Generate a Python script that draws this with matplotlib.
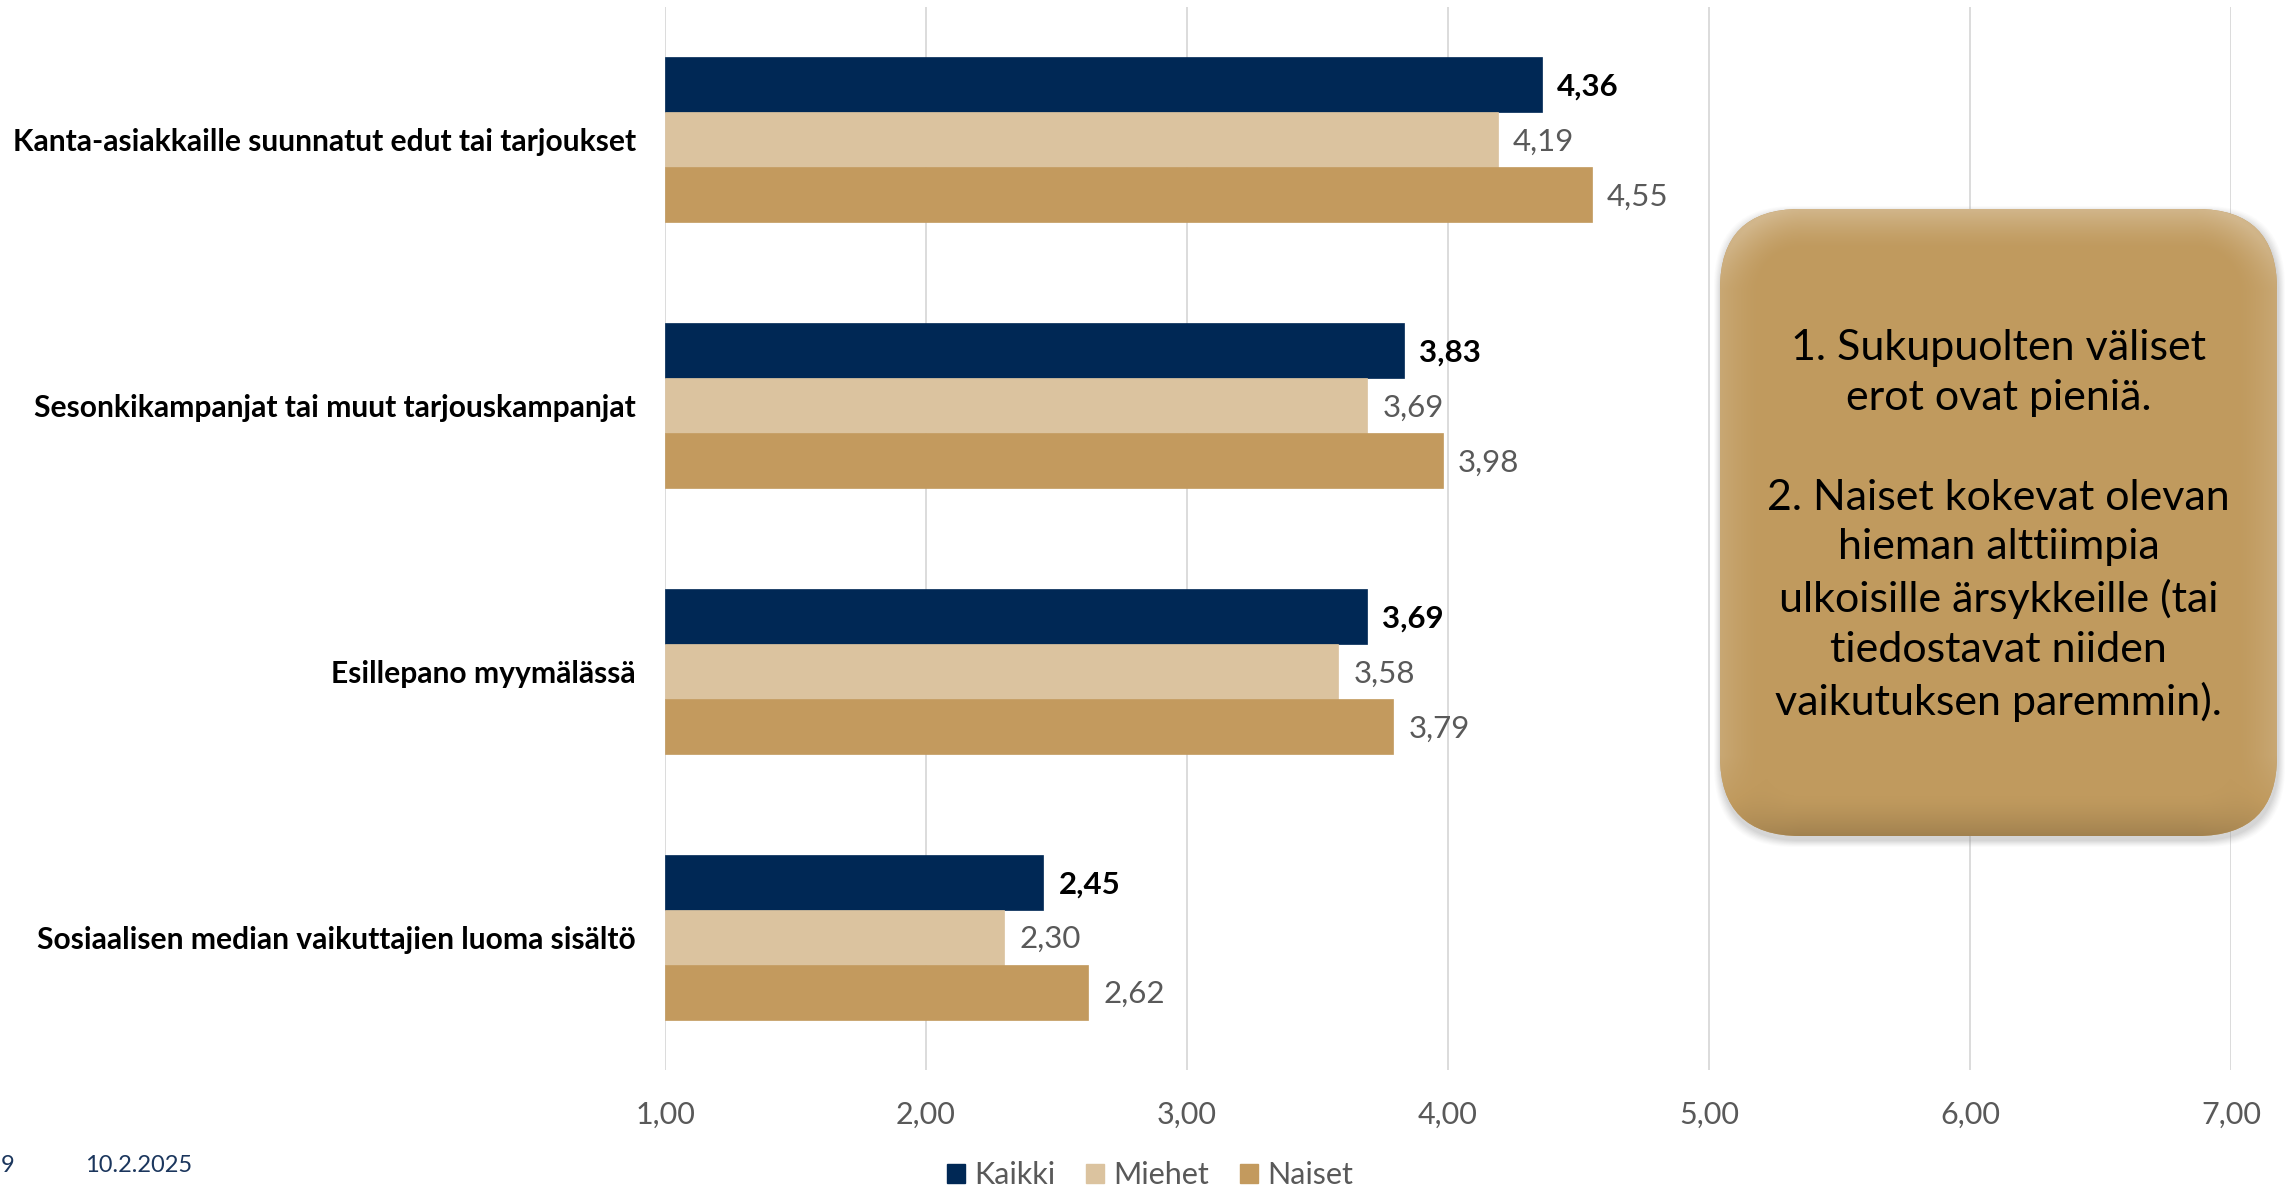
import numpy as np
import matplotlib
matplotlib.use('Agg')
import matplotlib.pyplot as plt
from matplotlib.patches import FancyBboxPatch, Patch

plt.rcParams['font.family'] = ['Lato', 'DejaVu Sans']

## __DATA__________________________
categories = ['Kanta-asiakkaille suunnatut edut tai tarjoukset',
              'Sesonkikampanjat tai muut tarjouskampanjat',
              'Esillepano myymälässä',
              'Sosiaalisen median vaikuttajien luoma sisältö']
series_names = ['Kaikki', 'Miehet', 'Naiset']
kaikki = [4.36, 3.83, 3.69, 2.45]
miehet = [4.19, 3.69, 3.58, 2.30]
naiset = [4.55, 3.98, 3.79, 2.62]
xticks = [1, 2, 3, 4, 5, 6, 7]
note_text = ('1. Sukupuolten väliset\nerot ovat pieniä.\n\n'
             '2. Naiset kokevat olevan\nhieman alttiimpia\nulkoisille ärsykkeille (tai\n'
             'tiedostavat niiden\nvaikutuksen paremmin).')
footer_page = '9'
footer_date = '10.2.2025'

colors = ['#002855', '#DBC39F', '#C39A5E']
gray = '#595959'

W, H = 2289, 1187
fig = plt.figure(figsize=(W / 100, H / 100), dpi=100)
ax = fig.add_axes([665 / W, 1 - 1070 / H, (2231 - 665) / W, (1070 - 7) / H])

## __BARS__________________________
y = np.arange(len(categories))
h = 0.207
for i, (name, vals) in enumerate(zip(series_names, [kaikki, miehet, naiset])):
    pos = y + (i - 1) * h
    ax.barh(pos, [v - 1 for v in vals], left=1, height=h, color=colors[i],
            edgecolor=colors[i], linewidth=0.5, label=name, zorder=3)
    for p, v in zip(pos, vals):
        ax.annotate(('%.2f' % v).replace('.', ','), (v, p), xytext=(11, -1.5),
                    textcoords='offset points', va='center', ha='left',
                    fontsize=22.5, color='black' if i == 0 else gray,
                    fontweight='bold' if i == 0 else 'normal')

## __AXES__________________________
ax.set_xlim(1, 7)
ax.set_ylim(3.5, -0.5)
ax.set_xticks(xticks)
ax.set_xticklabels([('%.2f' % t).replace('.', ',') for t in xticks], fontsize=22, color=gray)
ax.set_yticks(y)
ax.set_yticklabels(categories, fontsize=21.6, fontweight='bold', color='black')
ax.tick_params(axis='both', length=0)
ax.tick_params(axis='y', pad=21)
ax.tick_params(axis='x', pad=22)
for s in ax.spines.values():
    s.set_visible(False)
ax.grid(axis='x', color='#D9D9D9', linewidth=1.3, zorder=0)
ax.set_axisbelow(True)

## __LEGEND__________________________
handles = [Patch(facecolor=c, edgecolor=c) for c in colors]
fig.legend(handles, series_names, loc='center', bbox_to_anchor=(1150 / W, 1 - 1175 / H),
           ncol=3, frameon=False, fontsize=22, labelcolor=gray, handlelength=0.6,
           handleheight=0.6, handletextpad=0.3, columnspacing=1.0)

## __FOOTER__________________________
fig.text(1 / W, 1 - 1166 / H, footer_page, ha='left', va='center', fontsize=17, color='#1B365D')
fig.text(85 / W, 1 - 1166 / H, footer_date, ha='left', va='center', fontsize=17, color='#1B365D')

## __NOTE BOX__________________________
bx0, bx1, by0, by1 = 1720, 2277, 209, 836
bw, bh = bx1 - bx0, by1 - by0
pad = 12
bax = fig.add_axes([(bx0 - pad) / W, 1 - (by1 + pad) / H, (bw + 2 * pad) / W, (bh + 2 * pad) / H])
bax.set_xlim(-pad, bw + pad)
bax.set_ylim(-pad, bh + pad)
bax.axis('off')
r = 80
# shadow
for k, a in zip(range(7, 0, -1), [0.03, 0.04, 0.05, 0.06, 0.07, 0.08, 0.09]):
    bax.add_patch(FancyBboxPatch((r - k + 1, r - k - 4), bw - 2 * r + 2 * k, bh - 2 * r + 2 * k,
                                 boxstyle='round,pad=%d' % r, facecolor='#909090', edgecolor='none',
                                 alpha=a, zorder=1))
box = FancyBboxPatch((r, r), bw - 2 * r, bh - 2 * r, boxstyle='round,pad=%d' % r,
                     facecolor='#C09A5E', edgecolor='none', zorder=2)
bax.add_patch(box)
# bevel shading
xs = np.arange(bw) + 0.5
ys = np.arange(bh) + 0.5
X, Y = np.meshgrid(xs, ys)
px, py = X - bw / 2, Y - bh / 2
qx, qy = np.abs(px) - (bw / 2 - r), np.abs(py) - (bh / 2 - r)
dout = np.hypot(np.maximum(qx, 0), np.maximum(qy, 0)) + np.minimum(np.maximum(qx, qy), 0) - r
gy, gx = np.gradient(dout)
inside = -dout
bev = 40.0
fall = np.clip(1 - inside / bev, 0, 1) ** 1.4
light = gy * 1.0 + np.abs(gx) * 0.35
base = np.array([0xC0, 0x9A, 0x5E]) / 255.0
shade = fall * (0.22 * light + 0.06)
rgb = np.clip(base[None, None, :] + shade[:, :, None] * np.where(shade[:, :, None] > 0, 1 - base, base), 0, 1)
img = bax.imshow(rgb, extent=(0, bw, 0, bh), origin='lower', zorder=3, interpolation='bilinear')
img.set_clip_path(box)
bax.text(bw / 2, bh / 2 - 3, note_text, ha='center', va='center', fontsize=31,
         color='black', linespacing=1.38, zorder=4)

fig.savefig('out.png', dpi=100)
